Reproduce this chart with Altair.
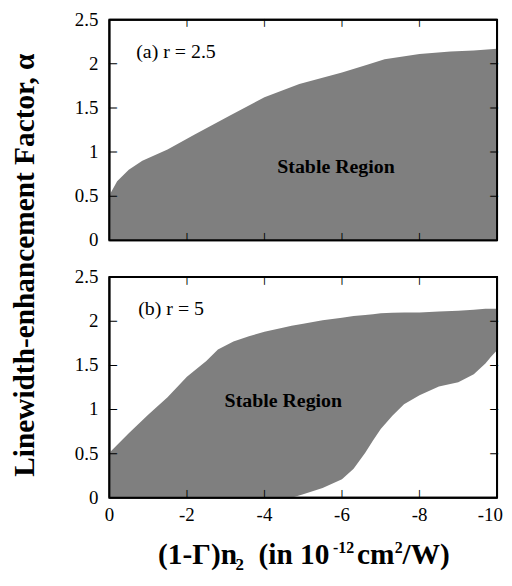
import altair as alt
import pandas as pd

# ---------------- data ----------------
x_tick_values = [0, -2, -4, -6, -8]
x_tick_labels = ["0", "-2", "-4", "-6", "-8"]
x_last_value = [-10]
x_last_label = ["-10"]
y_tick_values = [0, 0.5, 1, 1.5, 2, 2.5]
y_tick_labels = ["0", "0.5", "1", "1.5", "2", "2.5"]
inner_x_ticks = [-2, -4, -6, -8]
inner_y_ticks = [0.5, 1, 1.5, 2]

# panel (a) r = 2.5 : upper boundary of stable region (lower boundary = 0)
a_x = [0, -0.2, -0.5, -0.85, -1.5, -2.2, -3.1, -4, -4.9, -6, -6.65, -7.1, -8, -8.8, -9.4, -10]
a_hi = [0.51, 0.67, 0.80, 0.90, 1.03, 1.20, 1.41, 1.62, 1.77, 1.90, 1.99, 2.05, 2.11, 2.14, 2.15, 2.17]
a_lo = [0] * len(a_x)

# panel (b) r = 5 : upper and lower boundaries
b_x = [0, -0.5, -1, -1.5, -2, -2.5, -2.8, -3.2, -3.6, -4, -4.5, -4.7, -5, -5.5, -6,
       -6.3, -6.6, -6.8, -7, -7.3, -7.6, -8, -8.5, -9, -9.4, -9.7, -9.85, -10]
b_hi = [0.51, 0.73, 0.94, 1.14, 1.37, 1.55, 1.68, 1.77, 1.83, 1.88, 1.93, 1.95, 1.97, 2.01, 2.04,
        2.06, 2.07, 2.08, 2.09, 2.095, 2.10, 2.10, 2.11, 2.12, 2.13, 2.14, 2.14, 2.14]
b_lo = [0, 0, 0, 0, 0, 0, 0, 0, 0, 0, 0, 0, 0.04, 0.11, 0.21,
        0.33, 0.51, 0.65, 0.78, 0.93, 1.06, 1.16, 1.26, 1.31, 1.40, 1.52, 1.60, 1.67]

# ---------------- style ----------------
W, H = 390, 222
FONT = "Liberation Serif"
FILL = "#7f7f7f"
TICK = 7
LBL = 19

xscale = alt.Scale(domain=[0, -10], nice=False, zero=False)
yscale = alt.Scale(domain=[0, 2.5], nice=False, zero=False)

x_ends = pd.DataFrame({"v": [x_tick_values[0], x_last_value[0]]})
y_ends = pd.DataFrame({"v": [y_tick_values[0], y_tick_values[-1]]})


def text_layer(txt, x, y, size, bold=False, align="left", angle=0):
    kw = dict(font=FONT, fontSize=size, align=align, baseline="alphabetic",
              color="black", fontWeight="bold" if bold else "normal")
    if angle:
        kw["angle"] = angle
    return alt.Chart(pd.DataFrame({"t": [txt]})).mark_text(**kw).encode(
        text="t:N", x=alt.value(x), y=alt.value(y))


def frame_layers():
    hx = alt.X("v:Q", scale=xscale, axis=None)
    vy = alt.Y("v:Q", scale=yscale, axis=None)
    top_e = alt.Chart(x_ends).mark_area(color="black", opacity=1).encode(
        x=hx, y=alt.value(-1), y2=alt.value(1))
    bot_e = alt.Chart(x_ends).mark_area(color="black", opacity=1).encode(
        x=hx, y=alt.value(H - 1), y2=alt.value(H + 1))
    left_e = alt.Chart(y_ends).mark_area(color="black", opacity=1, orient="horizontal").encode(
        y=vy, x=alt.value(-1), x2=alt.value(1))
    right_e = alt.Chart(y_ends).mark_area(color="black", opacity=1, orient="horizontal").encode(
        y=vy, x=alt.value(W - 1), x2=alt.value(W + 1))
    return [top_e, bot_e, left_e, right_e]


def tick_layers():
    tx = pd.DataFrame({"v": inner_x_ticks, "g": ["|"] * len(inner_x_ticks)})
    ty = pd.DataFrame({"v": inner_y_ticks, "g": ["|"] * len(inner_y_ticks)})
    kw = dict(font="DejaVu Sans", fontSize=8, fontWeight="bold", align="center",
              baseline="middle", color="black")
    return [
        alt.Chart(tx).mark_text(**kw).encode(
            x=alt.X("v:Q", scale=xscale, axis=None), y=alt.value(H - TICK / 2), text="g:N"),
        alt.Chart(tx).mark_text(**kw).encode(
            x=alt.X("v:Q", scale=xscale, axis=None), y=alt.value(TICK / 2), text="g:N"),
        alt.Chart(ty).mark_text(angle=90, **kw).encode(
            y=alt.Y("v:Q", scale=yscale, axis=None), x=alt.value(TICK / 2), text="g:N"),
        alt.Chart(ty).mark_text(angle=90, **kw).encode(
            y=alt.Y("v:Q", scale=yscale, axis=None), x=alt.value(W - TICK / 2), text="g:N"),
    ]


def panel(xs, his, los, label, sr_pos, show_x_labels, extras):
    df = pd.DataFrame({"x": xs, "hi": his, "lo": los})
    area = alt.Chart(df).mark_area(color=FILL, opacity=1, interpolate="linear").encode(
        x=alt.X("x:Q", scale=xscale, axis=None),
        y=alt.Y("hi:Q", scale=yscale, axis=None),
        y2="lo:Q",
    )
    ylab = alt.Chart(pd.DataFrame({"v": y_tick_values, "lab": y_tick_labels})).mark_text(
        font=FONT, fontSize=LBL, align="right", baseline="middle", color="black").encode(
        y=alt.Y("v:Q", scale=yscale, axis=None), x=alt.value(-11), text="lab:N")

    layers = [area] + frame_layers() + tick_layers() + [ylab]
    if show_x_labels:
        xlab = alt.Chart(pd.DataFrame({"v": x_tick_values, "lab": x_tick_labels})).mark_text(
            font=FONT, fontSize=LBL, align="center", baseline="top", color="black").encode(
            x=alt.X("v:Q", scale=xscale, axis=None), y=alt.value(H + 8), text="lab:N")
        xlast = alt.Chart(pd.DataFrame({"v": x_last_value, "lab": x_last_label})).mark_text(
            font=FONT, fontSize=LBL, align="right", baseline="top", color="black", dx=6).encode(
            x=alt.X("v:Q", scale=xscale, axis=None), y=alt.value(H + 8), text="lab:N")
        layers += [xlab, xlast]
    layers.append(text_layer(label[0], label[1], label[2], 20))
    layers.append(text_layer("Stable Region", sr_pos[0], sr_pos[1], 20, bold=True, align="center"))
    layers.extend(extras)
    return alt.layer(*layers).properties(width=W, height=H)


ytitle = text_layer("Linewidth-enhancement Factor, \u03b1", -76, 247, 29.5, bold=True,
                    align="center", angle=270)

XT = 29.5
BASE = 289
xtitle = [
    text_layer("(1-\u0393)n", 49, BASE, XT, bold=True),
    text_layer("2", 127, BASE + 6, 17, bold=True),
    text_layer("(in 10", 150, BASE, XT, bold=True),
    text_layer("-12", 225, BASE - 11, 16, bold=True),
    text_layer("cm", 249, BASE, XT, bold=True),
    text_layer("2", 287, BASE - 11, 16, bold=True),
    text_layer("/W)", 295, BASE, XT, bold=True),
]

top = panel(a_x, a_hi, a_lo, ("(a) r = 2.5", 27, 39), (228, 154), False, [ytitle])
bottom = panel(b_x, b_hi, b_lo, ("(b) r = 5", 29, 38), (175, 131), True, xtitle)

chart = alt.vconcat(top, bottom, spacing=37, bounds="flush").properties(
    padding={"left": 0, "top": 0, "right": 0, "bottom": 0}
).configure_view(stroke="black", strokeWidth=2)

chart.save("out.html", embed_options={"renderer": "svg", "actions": False})
